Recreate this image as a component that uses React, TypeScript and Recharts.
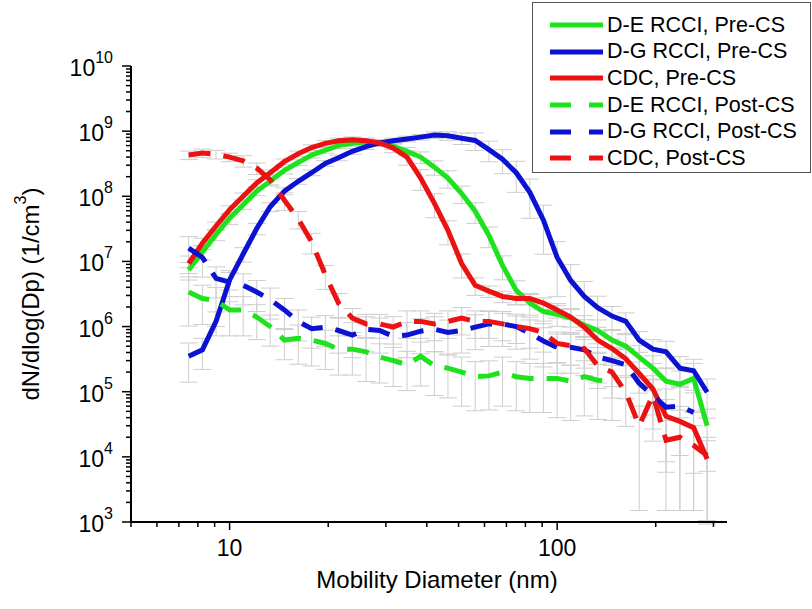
import { LineChart, Line, XAxis, YAxis, ErrorBar } from 'recharts'

// SMPS channel mid-point diameters (nm)
const diameters = [
  7.5, 8.26, 9.09, 10.0, 11.0, 12.1, 13.3, 14.7, 16.2, 17.8, 19.6, 21.5, 23.7, 26.1, 28.7, 31.6, 34.8, 38.3, 42.2,
  46.4, 51.1, 56.2, 61.9, 68.1, 75.0, 82.5, 90.8, 100, 110, 121, 133, 147, 162, 178, 196, 215, 237, 261, 287,
]

// dN/dlog(Dp), 1/cm3
const deRcciPre = [
  7.4e6, 1.4e7, 2.6e7, 4.6e7, 7.4e7, 1.2e8, 1.7e8, 2.5e8, 3.3e8, 4.3e8, 5.1e8, 6.0e8, 6.5e8, 6.8e8, 6.6e8, 5.9e8,
  4.9e8, 4.0e8, 2.8e8, 1.9e8, 1.1e8, 5.9e7, 2.5e7, 8.7e6, 3.6e6, 2.3e6, 1.7e6, 1.55e6, 1.35e6, 1.05e6, 8.7e5, 6.2e5,
  5.0e5, 3.4e5, 2.3e5, 1.45e5, 1.3e5, 1.6e5, 3.0e4,
]
const dgRcciPre = [
  3.5e5, 4.4e5, 1.2e6, 5.2e6, 1.3e7, 3.2e7, 6.9e7, 1.2e8, 1.7e8, 2.3e8, 3.2e8, 3.9e8, 4.9e8, 5.8e8, 6.6e8, 7.1e8,
  7.6e8, 8.1e8, 8.7e8, 8.5e8, 7.8e8, 7.2e8, 5.2e8, 3.7e8, 2.3e8, 1.15e8, 4.3e7, 1.15e7, 5.1e6, 2.9e6, 1.95e6, 1.45e6,
  1.2e6, 6.2e5, 4.5e5, 4.1e5, 2.3e5, 2.1e5, 9.8e4,
]
const cdcPre = [
  9.3e6, 1.9e7, 3.5e7, 6.2e7, 1.0e8, 1.6e8, 2.3e8, 3.4e8, 4.5e8, 5.6e8, 6.5e8, 7.1e8, 7.4e8, 7.1e8, 6.6e8, 5.5e8,
  4.0e8, 1.9e8, 7.8e7, 3.0e7, 9.3e6, 4.3e6, 3.5e6, 2.9e6, 2.7e6, 2.7e6, 2.3e6, 1.8e6, 1.4e6, 9.8e5, 6.2e5, 4.6e5,
  3.2e5, 1.9e5, 1.1e5, 4.2e4, 3.5e4, 2.8e4, 9.3e3,
]
const deRcciPost = [
  3.4e6, 2.7e6, 2.5e6, 1.8e6, 1.8e6, 1.4e6, 1.0e6, 6.2e5, 6.6e5, 6.2e5, 5.5e5, 4.5e5, 4.5e5, 4.1e5, 3.4e5, 3.0e5,
  2.6e5, 3.5e5, 2.5e5, 2.3e5, 2.0e5, 1.7e5, 1.75e5, 2.0e5, 1.7e5, 1.6e5, 1.6e5, 1.6e5, 1.45e5, 1.7e5, 1.5e5, 1.45e5,
  null, null, null, null, null, null, null,
]
const dgRcciPost = [
  1.6e7, 1.15e7, 5.5e6, 4.8e6, 4.3e6, 3.4e6, 2.6e6, 1.8e6, 1.2e6, 9.3e5, 9.8e5, 8.7e5, 7.4e5, 9.1e5, 8.7e5, 7.1e5,
  7.4e5, 8.5e5, 9.1e5, 8.1e5, 8.7e5, 9.8e5, 1.1e6, 1.1e6, 1.0e6, 7.9e5, 6.0e5, 4.8e5, 4.8e5, 4.4e5, 3.4e5, 3.0e5,
  2.6e5, 1.35e5, 8.7e4, 5.8e4, 6.0e4, 4.8e4, null,
]
const cdcPost = [
  4.3e8, 4.6e8, 4.4e8, 4.0e8, 3.5e8, 2.7e8, 1.8e8, 8.7e7, 4.5e7, 2.0e7, 6.2e6, 2.3e6, 1.35e6, 1.1e6, 1.1e6, 9.8e5,
  1.2e6, 1.2e6, 1.1e6, 1.2e6, 1.35e6, 1.2e6, 1.2e6, 1.1e6, 1.0e6, 9.3e5, 8.1e5, 5.5e5, 5.1e5, 4.6e5, 2.5e5, 2.0e5,
  9.8e4, 3.0e4, 8.9e4, 1.8e4, 2.0e4, 1.5e4, 1.05e4,
]

// relative standard deviation of each channel (fraction of value)
const deRcciPreErr = [
  0.3, 0.25, 0.2, 0.2, 0.15, 0.15, 0.12, 0.12, 0.1, 0.1, 0.1, 0.1, 0.1, 0.1, 0.1, 0.12, 0.15, 0.2, 0.25, 0.3, 0.3,
  0.35, 0.35, 0.4, 0.4, 0.35, 0.35, 0.35, 0.4, 0.4, 0.45, 0.45, 0.5, 0.5, 0.55, 0.6, 0.6, 0.7, 0.8,
]
const dgRcciPreErr = [
  0.6, 0.5, 0.4, 0.3, 0.25, 0.2, 0.15, 0.12, 0.1, 0.1, 0.1, 0.1, 0.1, 0.1, 0.1, 0.1, 0.1, 0.1, 0.12, 0.15, 0.2, 0.3,
  0.35, 0.4, 0.5, 0.6, 0.7, 0.75, 0.75, 0.7, 0.5, 0.4, 0.35, 0.35, 0.4, 0.45, 0.5, 0.5, 0.6,
]
const cdcPreErr = [
  0.3, 0.2, 0.15, 0.15, 0.12, 0.12, 0.1, 0.1, 0.1, 0.1, 0.1, 0.1, 0.1, 0.1, 0.12, 0.15, 0.25, 0.35, 0.4, 0.4, 0.4,
  0.3, 0.2, 0.2, 0.2, 0.2, 0.2, 0.25, 0.3, 0.3, 0.35, 0.4, 0.45, 0.5, 0.6, 0.8, 0.7, 0.8, 0.9,
]
const deRcciPostErr = [
  0.7, 0.6, 0.6, 0.6, 0.6, 0.55, 0.5, 0.5, 0.6, 0.6, 0.6, 0.6, 0.6, 0.65, 0.6, 0.6, 0.6, 0.65, 0.65, 0.65, 0.7, 0.7,
  0.7, 0.7, 0.7, 0.7, 0.7, 0.75, 0.75, 0.75, 0.75, 0.75, null, null, null, null, null, null, null,
]
const dgRcciPostErr = [
  0.5, 0.5, 0.5, 0.5, 0.5, 0.5, 0.5, 0.5, 0.5, 0.5, 0.5, 0.55, 0.55, 0.55, 0.55, 0.55, 0.55, 0.55, 0.55, 0.55, 0.55,
  0.55, 0.55, 0.55, 0.55, 0.6, 0.6, 0.6, 0.6, 0.6, 0.6, 0.6, 0.7, 0.7, 0.8, 0.9, 1, 1, null,
]
const cdcPostErr = [
  0.15, 0.15, 0.15, 0.15, 0.2, 0.2, 0.2, 0.3, 0.3, 0.35, 0.4, 0.4, 0.4, 0.4, 0.4, 0.45, 0.45, 0.45, 0.45, 0.45, 0.45,
  0.45, 0.45, 0.45, 0.45, 0.5, 0.5, 0.5, 0.5, 0.5, 0.55, 0.6, 0.7, 1, 0.7, 1, 1, 1, 0.9,
]

const xTicks = [5, 6, 7, 8, 9, 10, 20, 30, 40, 50, 60, 70, 80, 90, 100, 200, 300]
const yDecades = [3, 4, 5, 6, 7, 8, 9, 10]
const yMinor = [2, 3, 4, 5, 6, 7, 8, 9]
const yTicks = yDecades.flatMap((e) => (e === 10 ? [10 ** e] : [10 ** e, ...yMinor.map((m) => m * 10 ** e)]))

const GREEN = '#1fe21f'
const BLUE = '#0c12d2'
const RED = '#ec1212'
const FONT = '"Liberation Sans", Arial, sans-serif'
const ERR_FLOOR = 1500

const series = [
  { key: 'dePre', name: 'D-E RCCI, Pre-CS', color: GREEN, dashed: false, values: deRcciPre, err: deRcciPreErr },
  { key: 'dgPre', name: 'D-G RCCI, Pre-CS', color: BLUE, dashed: false, values: dgRcciPre, err: dgRcciPreErr },
  { key: 'cdcPre', name: 'CDC, Pre-CS', color: RED, dashed: false, values: cdcPre, err: cdcPreErr },
  { key: 'dePost', name: 'D-E RCCI, Post-CS', color: GREEN, dashed: true, values: deRcciPost, err: deRcciPostErr },
  { key: 'dgPost', name: 'D-G RCCI, Post-CS', color: BLUE, dashed: true, values: dgRcciPost, err: dgRcciPostErr },
  { key: 'cdcPost', name: 'CDC, Post-CS', color: RED, dashed: true, values: cdcPost, err: cdcPostErr },
]

const rows = diameters.map((d, i) => {
  const row: Record<string, unknown> = { d }
  series.forEach((s) => {
    const v = s.values[i]
    const r = s.err[i]
    row[s.key] = v
    if (v != null && r != null) {
      // lower whisker stops just above the axis floor when sd exceeds the mean
      const lo = r >= 1 ? v - ERR_FLOOR : v * r
      row[s.key + 'Err'] = [lo, v * r]
    }
  })
  return row
})

const XTick = ({ x, y, payload }: any) => {
  const major = payload.value === 10 || payload.value === 100
  return (
    <g>
      <line x1={x} x2={x} y1={y} y2={y + (major ? 8 : 5)} stroke="#000" strokeWidth={1.5} />
      {major && (
        <text x={x} y={y + 34} textAnchor="middle" fontSize={23} fontFamily={FONT} fill="#000">
          {payload.value}
        </text>
      )}
    </g>
  )
}

const YTick = ({ x, y, payload }: any) => {
  const lg = Math.log10(payload.value)
  const exp = Math.round(lg)
  const major = Math.abs(lg - exp) < 1e-6
  return (
    <g>
      <line x1={x - (major ? 9 : 5)} x2={x} y1={y} y2={y} stroke="#000" strokeWidth={1.5} />
      {major && (
        <text x={x - 18} y={y + 10} textAnchor="end" fontSize={23} fontFamily={FONT} fill="#000">
          10
          <tspan dy={-13} fontSize={16}>
            {exp}
          </tspan>
        </text>
      )}
    </g>
  )
}

const YTitle = ({ viewBox }: any) => {
  const cx = 30
  const cy = viewBox.y + viewBox.height / 2
  return (
    <text
      x={cx}
      y={cy}
      transform={`rotate(-90, ${cx}, ${cy})`}
      textAnchor="middle"
      dominantBaseline="central"
      fontSize={24}
      fontFamily={FONT}
      fill="#000"
    >
      dN/dlog(Dp) (1/cm
      <tspan dy={-10} fontSize={16}>
        3
      </tspan>
      <tspan dy={10}>)</tspan>
    </text>
  )
}

function LegendBox() {
  return (
    <div
      style={{
        position: 'absolute',
        left: 532,
        top: 2,
        width: 279,
        height: 171,
        border: '1px solid #555',
        background: '#fff',
        fontFamily: FONT,
        fontSize: 21.5,
        paddingTop: 9,
        boxSizing: 'border-box',
      }}
    >
      {series.map((s) => (
        <div key={s.key} style={{ display: 'flex', alignItems: 'center', height: 26.6 }}>
          <svg width={74} height={10} style={{ flex: 'none' }}>
            <line
              x1={17}
              x2={70}
              y1={5}
              y2={5}
              stroke={s.color}
              strokeWidth={5}
              strokeDasharray={s.dashed ? '21 18' : undefined}
            />
          </svg>
          <span style={{ whiteSpace: 'nowrap' }}>{s.name}</span>
        </div>
      ))}
    </div>
  )
}

export default function App() {
  return (
    <div style={{ position: 'absolute', left: 0, top: 0, width: 812, height: 609, background: '#fff' }}>
      <LineChart width={812} height={609} data={rows} margin={{ top: 66, right: 85, bottom: 17, left: 0 }}>
        <XAxis
          dataKey="d"
          type="number"
          scale="log"
          domain={[5, 330]}
          allowDataOverflow
          ticks={xTicks}
          interval={0}
          tick={<XTick />}
          tickLine={false}
          tickSize={0}
          tickMargin={0}
          height={70}
          axisLine={{ stroke: '#000', strokeWidth: 2 }}
          label={{
            value: 'Mobility Diameter (nm)',
            position: 'insideBottom',
            offset: 4,
            dx: 8,
            style: { fontSize: 24, fontFamily: FONT, fill: '#000' },
          }}
        />
        <YAxis
          type="number"
          scale="log"
          domain={[1e3, 1e10]}
          allowDataOverflow
          ticks={yTicks}
          interval={0}
          tick={<YTick />}
          tickLine={false}
          tickSize={0}
          tickMargin={0}
          width={131}
          axisLine={{ stroke: '#000', strokeWidth: 2 }}
          label={<YTitle />}
        />
        {/* error bars first so every curve sits above them */}
        {series.map((s) => (
          <Line
            key={s.key + '-err'}
            dataKey={s.key}
            stroke="none"
            dot={false}
            activeDot={false}
            legendType="none"
            isAnimationActive={false}
          >
            <ErrorBar dataKey={s.key + 'Err'} width={9} stroke="#cdcdcd" strokeWidth={1} direction="y" />
          </Line>
        ))}
        {series.map((s) => (
          <Line
            key={s.key}
            dataKey={s.key}
            name={s.name}
            stroke={s.color}
            strokeWidth={5}
            strokeDasharray={s.dashed ? '22 13' : undefined}
            dot={false}
            activeDot={false}
            isAnimationActive={false}
          />
        ))}
      </LineChart>
      <LegendBox />
    </div>
  )
}
